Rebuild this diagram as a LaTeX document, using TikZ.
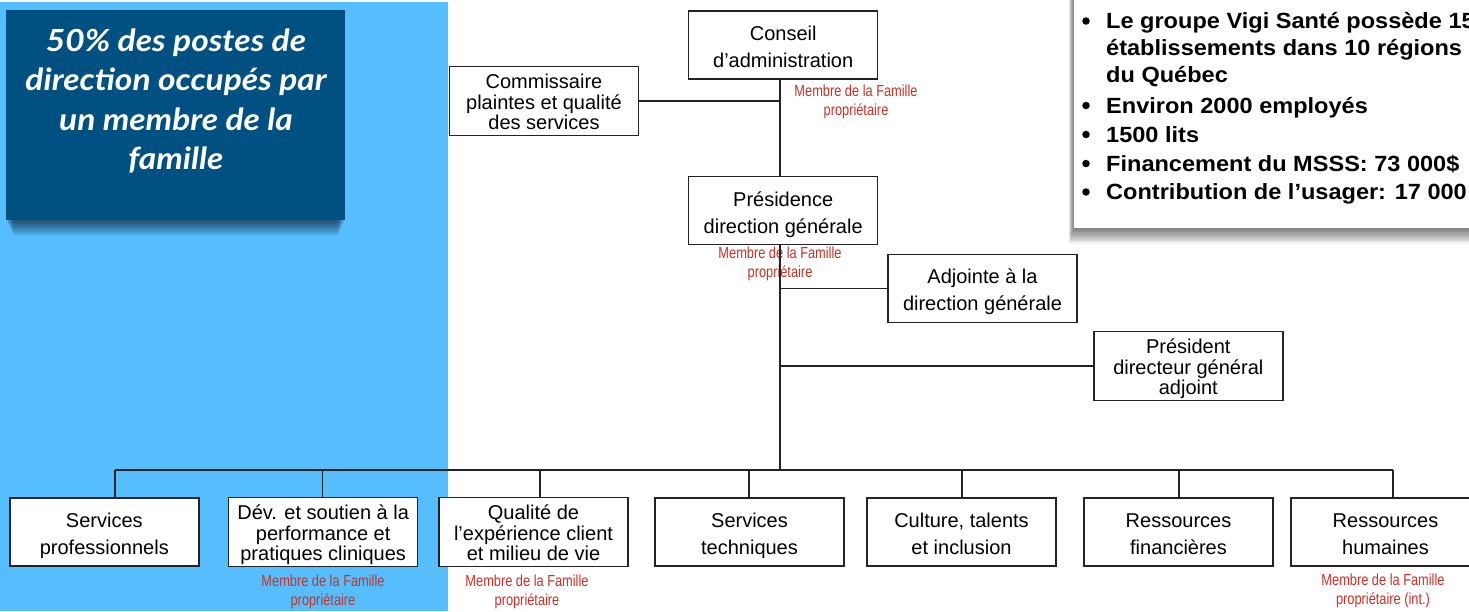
\documentclass[tikz,border=0pt]{standalone}
\usepackage{fontspec}
\setmainfont{Liberation Sans}
\newfontfamily\narrowfont[FakeStretch=0.8]{Liberation Sans}
\newfontfamily\infofont[FakeStretch=1.07]{Liberation Sans}
\newfontfamily\latofont[FakeStretch=1.1]{Lato}
\usetikzlibrary{shadows,calc}
\definecolor{skyblue}{RGB}{86,190,255}
\definecolor{navyblue}{RGB}{1,80,130}
\definecolor{famred}{RGB}{196,52,42}
\definecolor{linegray}{RGB}{35,35,35}
\newcommand\toptwo{\rule{0pt}{24pt}}
\newcommand\topthree{\rule{0pt}{22pt}}
\newcommand\botstrut{\rule[-6pt]{0pt}{6pt}}
\tikzset{
  orgbox/.style={draw=linegray, line width=1.4pt, fill=white, minimum width=189pt,
    minimum height=68pt, inner sep=0pt, align=center, font=\fontsize{20}{27}\selectfont},
  orgboxthree/.style={orgbox, font=\fontsize{20}{20.7}\selectfont},
  famlabel/.style={text=famred, align=center, inner sep=0pt,
    font=\narrowfont\fontsize{16}{19}\selectfont},
  link/.style={draw=linegray, line width=1.3pt},
  infoline/.style={anchor=base west, inner sep=0pt, font=\infofont\bfseries\fontsize{22}{28}\selectfont},
  bulletdot/.style={circle, fill=black, inner sep=0pt, minimum size=7.5pt},
}
\begin{document}
\begin{tikzpicture}[x=1pt,y=-1pt]
\useasboundingbox (0,0) rectangle (1469,611);
\begin{scope}
\clip (0,0) rectangle (1469,611);
\fill[white] (0,0) rectangle (1469,611);
\fill[skyblue] (0,1.5) rectangle (448,611);
% soft shadow of family box
\foreach \k in {1,...,12}
  \fill[black, opacity=0.06] (6+\k*0.6,120) rectangle (345-\k*0.6,220+\k*1.3);
\fill[navyblue] (6,10) rectangle (345,220);
\node[text=white, align=center, inner sep=0pt,
  font=\latofont\bfseries\itshape\fontsize{30.5}{39.5}\selectfont] (fam) at (176,101)
  {50\% des postes de\\direction occupés par\\un membre de la\\famille};
% soft shadow of info box
\foreach \k in {1,...,12}
  \fill[black, opacity=0.05] (1074-\k*0.45,-20) rectangle (1500,228+\k*1.3);
\fill[white] (1074,-20) rectangle (1500,228);
\node[bulletdot] (b1) at (1086,21) {};
\node[bulletdot] (b4) at (1086,105.5) {};
\node[bulletdot] (b5) at (1086,134.5) {};
\node[bulletdot] (b6) at (1086,163.5) {};
\node[bulletdot] (b7) at (1086,192) {};
\node[infoline] (i1) at (1106,28.5) {Le groupe Vigi Santé possède 15};
\node[infoline] (i2) at (1106,55.5) {établissements dans 10 régions};
\node[infoline] (i3) at (1106,82.5) {du Québec};
\node[infoline] (i4) at (1106,113) {Environ 2000 employés};
\node[infoline] (i5) at (1106,142) {1500 lits};
\node[infoline] (i6) at (1106,171) {Financement du MSSS: 73 000\$};
\node[infoline] (i7) at (1106,199.5) {Contribution de l’usager: 17 000};
% family labels
\node[famlabel] (f1) at (856,102.3) {Membre de la Famille\\propriétaire};
\node[famlabel] (f2) at (780,264) {Membre de la Famille\\propriétaire};
\node[famlabel] (f3) at (323,591.5) {Membre de la Famille\\propriétaire};
\node[famlabel] (f4) at (527,591.5) {Membre de la Famille\\propriétaire};
\node[famlabel] (f5) at (1383,591) {Membre de la Famille\\propriétaire (int.)};
% org boxes
\node[orgbox] (ca) at (783.2,44.8) {\toptwo Conseil\\d’administration\botstrut};
\node[orgboxthree] (cpq) at (544,101) {\topthree Commissaire\\plaintes et qualité\\des services\botstrut};
\node[orgbox] (pdg) at (783.2,210.7) {\toptwo Présidence\\direction générale\botstrut};
\node[orgbox] (adj) at (982.5,288.2) {\toptwo Adjointe à la\\direction générale\botstrut};
\node[orgboxthree] (pdga) at (1188.3,366) {\topthree Président\\directeur général\\adjoint\botstrut};
\node[orgbox] (sp) at (104.3,532) {\toptwo Services\\professionnels\botstrut};
\node[orgboxthree] (dev) at (323.2,532) {\topthree Dév. et soutien à la\\performance et\\pratiques cliniques\botstrut};
\node[orgboxthree] (qual) at (533.5,532) {\topthree Qualité de\\l’expérience client\\et milieu de vie\botstrut};
\node[orgbox] (st) at (749.5,532) {\toptwo Services\\techniques\botstrut};
\node[orgbox] (cult) at (961.5,532) {\toptwo Culture, talents\\et inclusion\botstrut};
\node[orgbox] (rf) at (1178.5,532) {\toptwo Ressources\\financières\botstrut};
\node[orgbox] (rh) at (1385.5,532) {\toptwo Ressources\\humaines\botstrut};
% connectors
\coordinate (spine) at (780,470);
\coordinate (j1) at (115,470);
\coordinate (j2) at (322.7,470);
\coordinate (j3) at (540,470);
\coordinate (j4) at (749,470);
\coordinate (j5) at (962,470);
\coordinate (j6) at (1179,470);
\coordinate (j7) at (1393,470);
\draw[link] (ca.south -| spine) -- (pdg.north -| spine);
\draw[link] (pdg.south -| spine) -- (spine);
\draw[link] (cpq.east) -- (cpq.east -| spine);
\draw[link] (adj.west) -- (adj.west -| spine);
\draw[link] (pdga.west) -- (pdga.west -| spine);
\draw[link] (j1) -- (j7);
\foreach \j/\b in {j1/sp, j2/dev, j3/qual, j4/st, j5/cult, j6/rf, j7/rh}
  \draw[link] (\j) -- (\j |- \b.north);
\end{scope}
\end{tikzpicture}
\end{document}
